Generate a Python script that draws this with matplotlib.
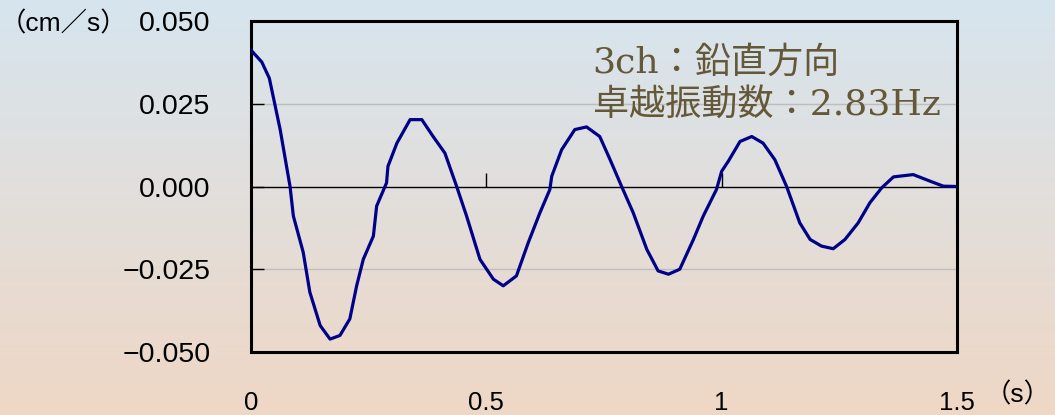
import numpy as np
import matplotlib.pyplot as plt
from matplotlib.colors import LinearSegmentedColormap

# 3ch 鉛直方向 速度波形 (読み取り値)
t = [0.0, 0.023, 0.039, 0.062, 0.083, 0.09, 0.111, 0.125, 0.147, 0.168, 0.189,
     0.21, 0.2245, 0.2386, 0.26, 0.267, 0.288, 0.291, 0.31, 0.338, 0.363, 0.387,
     0.412, 0.437, 0.458, 0.4865, 0.515, 0.536, 0.564, 0.589, 0.614, 0.635,
     0.639, 0.66, 0.688, 0.713, 0.741, 0.763, 0.7875, 0.812, 0.841, 0.865,
     0.887, 0.911, 0.94, 0.961, 0.989, 1.0, 1.014, 1.039, 1.064, 1.088, 1.113,
     1.138, 1.166, 1.188, 1.212, 1.237, 1.262, 1.29, 1.315, 1.34, 1.365,
     1.407, 1.443, 1.471, 1.5]
v = [0.0412, 0.0376, 0.0327, 0.0172, 0.0, -0.0089, -0.0199, -0.0319, -0.042,
     -0.0461, -0.045, -0.040, -0.030, -0.022, -0.015, -0.0059, 0.0011, 0.0061,
     0.0131, 0.0202, 0.0202, 0.0151, 0.0101, 0.0, -0.0089, -0.022, -0.028,
     -0.030, -0.027, -0.017, -0.0079, -0.0009, 0.0031, 0.0111, 0.0172, 0.018,
     0.0151, 0.0081, 0.0, -0.0079, -0.019, -0.0255, -0.0265, -0.025, -0.016,
     -0.0089, -0.0009, 0.0046, 0.0076, 0.0136, 0.0151, 0.0131, 0.0081, 0.0,
     -0.011, -0.016, -0.018, -0.0188, -0.016, -0.011, -0.0049, -0.0004, 0.0029,
     0.0036, 0.0016, 0.0001, 0.0]

yticks = [0.05, 0.025, 0.0, -0.025, -0.05]
ylabels = ['0.050', '0.025', '0.000', '\u22120.025', '\u22120.050']
xticks = [0, 0.5, 1, 1.5]
xlabels = ['0', '0.5', '1', '1.5']

fig = plt.figure(figsize=(10.55, 4.15), dpi=100)

# 背景グラデーション
bg = fig.add_axes([0, 0, 1, 1], zorder=-10)
cmap = LinearSegmentedColormap.from_list('bg', ['#d6e5ef', '#efd7c5'])
bg.imshow(np.linspace(0, 1, 256).reshape(-1, 1), aspect='auto', cmap=cmap,
          extent=[0, 1, 0, 1])
bg.axis('off')

ax = fig.add_axes([0.2379, 0.1518, 0.6692, 0.7976])
ax.set_facecolor('none')
ax.plot(t, v, color='#000088', lw=2.3, zorder=3)
ax.set_xlim(0, 1.5)
ax.set_ylim(-0.05, 0.05)

for s in ax.spines.values():
    s.set_linewidth(2.2)
    s.set_color('black')

ax.set_yticks(yticks)
ax.set_yticklabels(ylabels, family='Liberation Sans', fontsize=20.5)
ax.tick_params(axis='y', direction='in', length=9, width=1, pad=29)
ax.set_xticks(xticks)
ax.set_xticklabels(xlabels, family='Liberation Sans', fontsize=18.5)
ax.tick_params(axis='x', length=0, pad=28)

for g in [0.025, -0.025]:
    ax.axhline(g, color='#bdbdbd', lw=1, zorder=1)

# ゼロ線上の目盛
sec = ax.secondary_xaxis(0.5)
sec.set_xticks([0.5, 1.0])
sec.set_xticklabels([])
sec.tick_params(direction='out', length=10, width=1,
                labelbottom=False, labeltop=False)
sec.spines['bottom'].set_linewidth(1)
sec.spines['top'].set_linewidth(1)

fig.text(0.0, 0.942, '（cm／s）', fontsize=19, va='center', ha='left',
         family=['Liberation Sans', 'Noto Sans CJK JP'])
fig.text(0.996, 0.048, '（s）', fontsize=19, va='center', ha='right',
         family=['Liberation Sans', 'Noto Sans CJK JP'])

tf = ['DejaVu Serif', 'Noto Sans CJK JP']
ax.text(0.484, 0.843, '3ch：鉛直方向', transform=ax.transAxes, fontsize=26,
        color='#655838', family=tf, va='baseline')
ax.text(0.484, 0.716, '卓越振動数：2.83Hz', transform=ax.transAxes, fontsize=26,
        color='#655838', family=tf, va='baseline')

fig.savefig('out.png', dpi=100)
